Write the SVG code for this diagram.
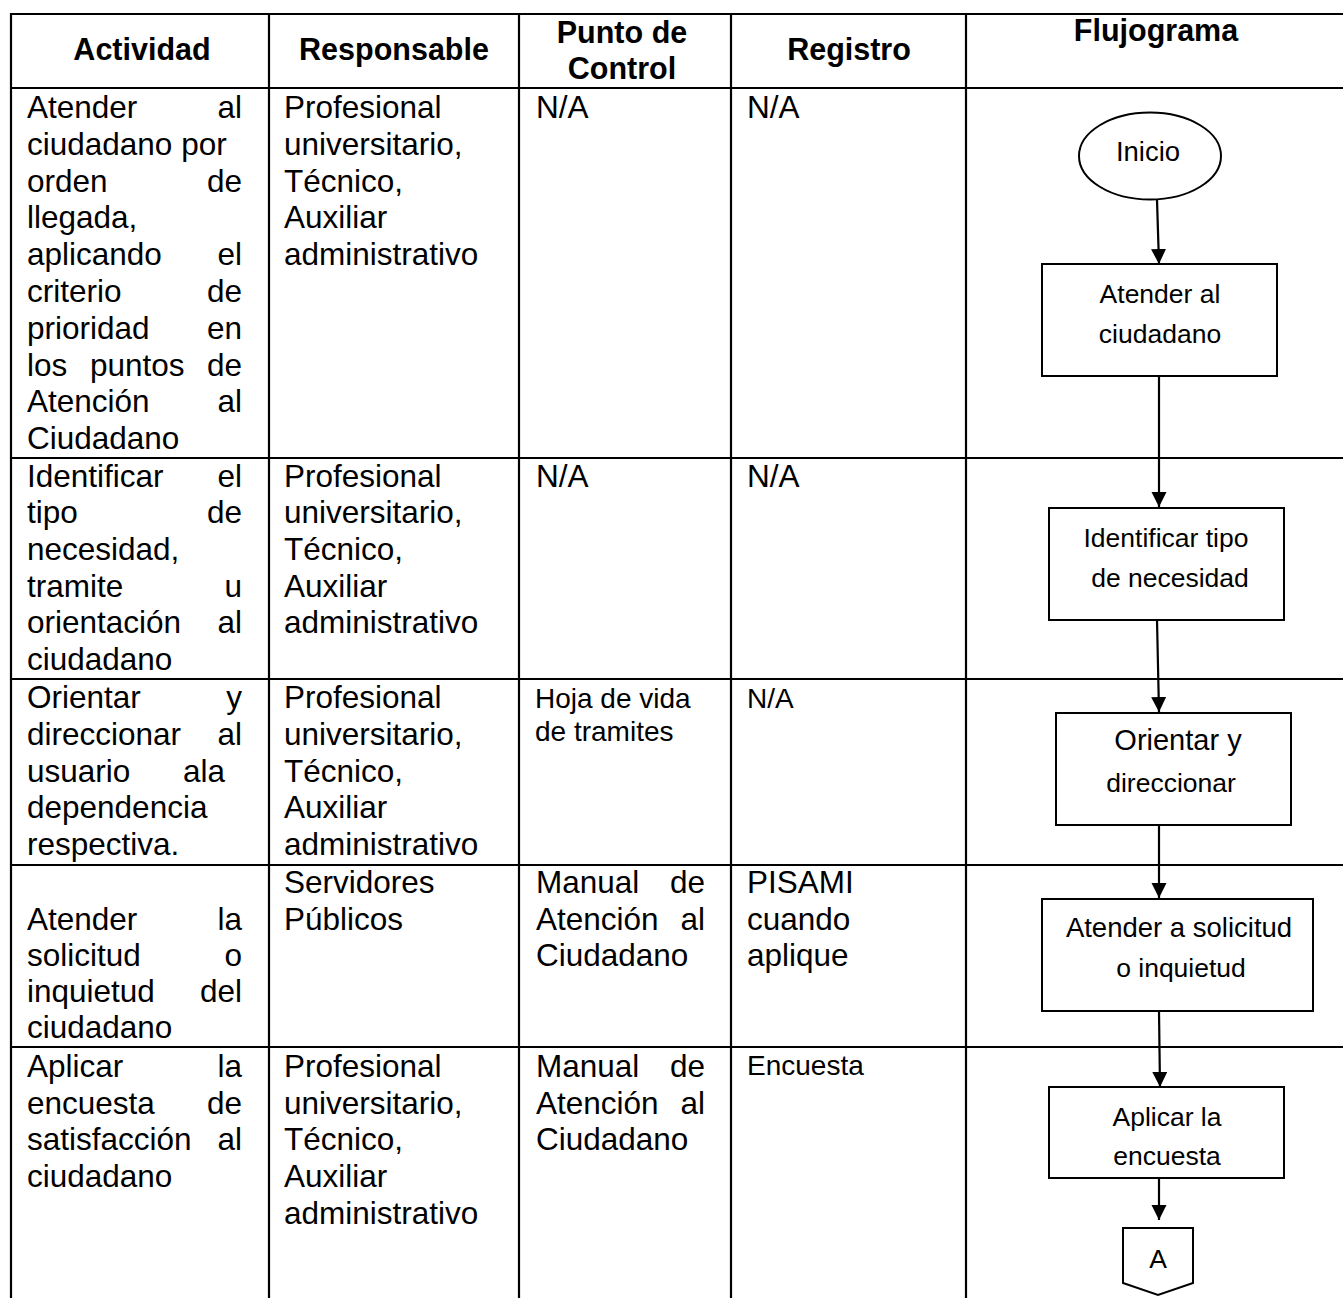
<svg xmlns="http://www.w3.org/2000/svg" width="1343" height="1298" viewBox="0 0 1343 1298">
<style>
text{font-family:"Liberation Sans",Arial,sans-serif;fill:#000}
.h{font-size:30.5px;font-weight:bold;text-anchor:middle}
.b{font-size:31.5px}
.s{font-size:28px}
.e{text-anchor:end}
.f{font-size:26.5px;text-anchor:middle}
.grid line{stroke:#000;stroke-width:2.2}
.node rect,.node ellipse,.node polygon{fill:#fff;stroke:#000;stroke-width:2}
.conn line{stroke:#000;stroke-width:2.2;marker-end:url(#ah)}
</style>
<defs>
<marker id="ah" markerUnits="userSpaceOnUse" markerWidth="16" markerHeight="16" refX="15" refY="7.5" orient="auto">
<path d="M0,0 L15,7.5 L0,15 z" fill="#000"/>
</marker>
</defs>
<rect width="1343" height="1298" fill="#fff"/>
<g id="table-grid" class="grid">
<line x1="10" y1="14" x2="1343" y2="14"/>
<line x1="10" y1="88" x2="1343" y2="88"/>
<line x1="10" y1="458" x2="1343" y2="458"/>
<line x1="10" y1="679" x2="1343" y2="679"/>
<line x1="10" y1="865" x2="1343" y2="865"/>
<line x1="10" y1="1047" x2="1343" y2="1047"/>
<line x1="11" y1="13" x2="11" y2="1298"/>
<line x1="269" y1="13" x2="269" y2="1298"/>
<line x1="519" y1="13" x2="519" y2="1298"/>
<line x1="731" y1="13" x2="731" y2="1298"/>
<line x1="966" y1="13" x2="966" y2="1298"/>
</g>
<g id="header">
<text class="h" x="142" y="60">Actividad</text>
<text class="h" x="394" y="60">Responsable</text>
<text class="h" x="622" y="43">Punto de</text>
<text class="h" x="622" y="79">Control</text>
<text class="h" x="849" y="60">Registro</text>
<text class="h" x="1156" y="41">Flujograma</text>
</g>
<g id="row1">
<text class="b" x="27" y="118">Atender</text><text class="b e" x="242" y="118">al</text>
<text class="b" x="27" y="155">ciudadano por</text>
<text class="b" x="27" y="192">orden</text><text class="b e" x="242" y="192">de</text>
<text class="b" x="27" y="228">llegada,</text>
<text class="b" x="27" y="265">aplicando</text><text class="b e" x="242" y="265">el</text>
<text class="b" x="27" y="302">criterio</text><text class="b e" x="242" y="302">de</text>
<text class="b" x="27" y="339">prioridad</text><text class="b e" x="242" y="339">en</text>
<text class="b" x="27" y="376">los</text><text class="b" x="90" y="376">puntos</text><text class="b e" x="242" y="376">de</text>
<text class="b" x="27" y="412">Atención</text><text class="b e" x="242" y="412">al</text>
<text class="b" x="27" y="449">Ciudadano</text>
<text class="b" x="284" y="118">Profesional</text>
<text class="b" x="284" y="155">universitario,</text>
<text class="b" x="284" y="192">Técnico,</text>
<text class="b" x="284" y="228">Auxiliar</text>
<text class="b" x="284" y="265">administrativo</text>
<text class="b" x="536" y="118">N/A</text>
<text class="b" x="747" y="118">N/A</text>
</g>
<g id="row2">
<text class="b" x="27" y="487">Identificar</text><text class="b e" x="242" y="487">el</text>
<text class="b" x="27" y="523">tipo</text><text class="b e" x="242" y="523">de</text>
<text class="b" x="27" y="560">necesidad,</text>
<text class="b" x="27" y="597">tramite</text><text class="b e" x="242" y="597">u</text>
<text class="b" x="27" y="633">orientación</text><text class="b e" x="242" y="633">al</text>
<text class="b" x="27" y="670">ciudadano</text>
<text class="b" x="284" y="487">Profesional</text>
<text class="b" x="284" y="523">universitario,</text>
<text class="b" x="284" y="560">Técnico,</text>
<text class="b" x="284" y="597">Auxiliar</text>
<text class="b" x="284" y="633">administrativo</text>
<text class="b" x="536" y="487">N/A</text>
<text class="b" x="747" y="487">N/A</text>
</g>
<g id="row3">
<text class="b" x="27" y="708">Orientar</text><text class="b e" x="242" y="708">y</text>
<text class="b" x="27" y="745">direccionar</text><text class="b e" x="242" y="745">al</text>
<text class="b" x="27" y="782">usuario</text><text class="b" x="183" y="782">ala</text>
<text class="b" x="27" y="818">dependencia</text>
<text class="b" x="27" y="855">respectiva.</text>
<text class="b" x="284" y="708">Profesional</text>
<text class="b" x="284" y="745">universitario,</text>
<text class="b" x="284" y="782">Técnico,</text>
<text class="b" x="284" y="818">Auxiliar</text>
<text class="b" x="284" y="855">administrativo</text>
<text class="s" x="535" y="708">Hoja de vida</text>
<text class="s" x="535" y="741">de tramites</text>
<text class="s" x="747" y="708">N/A</text>
</g>
<g id="row4">
<text class="b" x="27" y="930">Atender</text><text class="b e" x="242" y="930">la</text>
<text class="b" x="27" y="966">solicitud</text><text class="b e" x="242" y="966">o</text>
<text class="b" x="27" y="1002">inquietud</text><text class="b e" x="242" y="1002">del</text>
<text class="b" x="27" y="1038">ciudadano</text>
<text class="b" x="284" y="893">Servidores</text>
<text class="b" x="284" y="930">Públicos</text>
<text class="b" x="536" y="893">Manual</text><text class="b e" x="705" y="893">de</text>
<text class="b" x="536" y="930">Atención</text><text class="b e" x="705" y="930">al</text>
<text class="b" x="536" y="966">Ciudadano</text>
<text class="b" x="747" y="893">PISAMI</text>
<text class="b" x="747" y="930">cuando</text>
<text class="b" x="747" y="966">aplique</text>
</g>
<g id="row5">
<text class="b" x="27" y="1077">Aplicar</text><text class="b e" x="242" y="1077">la</text>
<text class="b" x="27" y="1114">encuesta</text><text class="b e" x="242" y="1114">de</text>
<text class="b" x="27" y="1150">satisfacción</text><text class="b e" x="242" y="1150">al</text>
<text class="b" x="27" y="1187">ciudadano</text>
<text class="b" x="284" y="1077">Profesional</text>
<text class="b" x="284" y="1114">universitario,</text>
<text class="b" x="284" y="1150">Técnico,</text>
<text class="b" x="284" y="1187">Auxiliar</text>
<text class="b" x="284" y="1224">administrativo</text>
<text class="b" x="536" y="1077">Manual</text><text class="b e" x="705" y="1077">de</text>
<text class="b" x="536" y="1114">Atención</text><text class="b e" x="705" y="1114">al</text>
<text class="b" x="536" y="1150">Ciudadano</text>
<text class="s" x="747" y="1075">Encuesta</text>
</g>
<g id="connectors" class="conn">
<line x1="1157" y1="200" x2="1159" y2="264"/>
<line x1="1159" y1="376" x2="1159" y2="507"/>
<line x1="1157" y1="620" x2="1159" y2="712"/>
<line x1="1159" y1="825" x2="1159" y2="898"/>
<line x1="1159" y1="1011" x2="1160" y2="1087"/>
<line x1="1159" y1="1178" x2="1159" y2="1220"/>
</g>
<g id="n-inicio" class="node">
<ellipse cx="1150" cy="156" rx="71" ry="43.5"/>
<text class="f" x="1148" y="161" style="font-size:27.5px">Inicio</text>
</g>
<g id="n-atender" class="node">
<rect x="1042" y="264" width="235" height="112"/>
<text class="f" x="1160" y="303">Atender al</text>
<text class="f" x="1160" y="343">ciudadano</text>
</g>
<g id="n-identificar" class="node">
<rect x="1049" y="508" width="235" height="112"/>
<text class="f" x="1166" y="547">Identificar tipo</text>
<text class="f" x="1170" y="587">de necesidad</text>
</g>
<g id="n-orientar" class="node">
<rect x="1056" y="713" width="235" height="112"/>
<text class="f" x="1178" y="750" style="font-size:29px">Orientar y</text>
<text class="f" x="1171" y="792">direccionar</text>
</g>
<g id="n-solicitud" class="node">
<rect x="1042" y="899" width="271" height="112"/>
<text class="f" x="1179" y="937" style="font-size:27.5px">Atender a solicitud</text>
<text class="f" x="1181" y="977">o inquietud</text>
</g>
<g id="n-encuesta" class="node">
<rect x="1049" y="1087" width="235" height="91"/>
<text class="f" x="1167" y="1126">Aplicar la</text>
<text class="f" x="1167" y="1165">encuesta</text>
</g>
<g id="n-A" class="node">
<polygon points="1123,1228 1193,1228 1193,1283 1158,1295 1123,1283"/>
<text class="f" x="1158" y="1268">A</text>
</g>
</svg>
